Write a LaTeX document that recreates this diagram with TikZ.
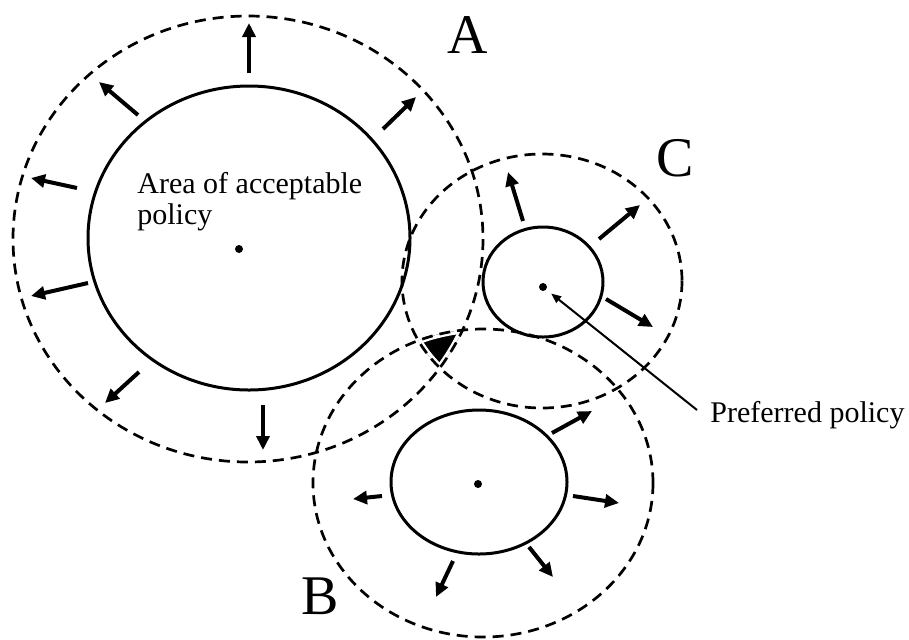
\documentclass[tikz,border=0pt]{standalone}
\usepackage{fontspec}
\setmainfont{Liberation Serif}
\usetikzlibrary{arrows.meta}

\begin{document}
\begin{tikzpicture}[x=0.5pt, y=-0.5pt,
  zone/.style={dash pattern=on 5.5pt off 3.5pt, line width=1.35pt},
  area/.style={line width=1.5pt},
  push/.style={line width=2pt, -{Triangle[length=7pt, width=6.5pt]}},
  pointer/.style={line width=1pt, -{Triangle[length=5pt, width=4pt]}, shorten >=3pt},
  centre/.style={circle, fill, inner sep=0pt, minimum size=4pt},
  tag/.style={font=\fontsize{28}{30}\selectfont, inner sep=0pt},
  note/.style={font=\fontsize{15}{15.5}\selectfont, inner sep=0pt, align=left}]

  \useasboundingbox (0,0) rectangle (909,639);

  % where all three zones overlap
  \begin{scope}
    \clip (248,239) ellipse [x radius=235, y radius=223];
    \clip (542,281) ellipse [x radius=140, y radius=127];
    \clip (483,483) ellipse [x radius=170, y radius=154];
    \fill (400,300) rectangle (500,400);
    \draw[white, line width=3.6pt] (248,239) ellipse [x radius=235, y radius=223];
    \draw[white, line width=3.6pt] (542,281) ellipse [x radius=140, y radius=127];
    \draw[white, line width=3.6pt] (483,483) ellipse [x radius=170, y radius=154];
  \end{scope}

  \draw[zone] (248,239) ellipse [x radius=235, y radius=223];
  \draw[zone] (542,281) ellipse [x radius=140, y radius=127];
  \draw[zone] (483,483) ellipse [x radius=170, y radius=154];

  \draw[area] (249,238) ellipse [x radius=161, y radius=152];
  \draw[area] (543,282) ellipse [x radius=60, y radius=55];
  \draw[area] (479,482) ellipse [x radius=88, y radius=72];

  \node[centre] (dotA) at (239,249) {};
  \node[centre] (dotC) at (543,287) {};
  \node[centre] (dotB) at (478,484) {};

  \foreach \sx/\sy/\ex/\ey in {249/73/249/23, 138/115/99/82, 383/129/416/97,
      77/188/31/178, 88/283/31/296, 139/372/105/403, 263/405/263/450,
      523/221/508/172, 599/239/640/205, 606/299/653/327,
      382/496/353/499, 552/433/592/411, 573/496/619/503,
      529/547/553/577, 453/561/436/597}
    \draw[push] (\sx,\sy) -- (\ex,\ey);

  \node[note, anchor=north west] (areatext) at (137,172) {Area of acceptable\\policy};
  \node[note, anchor=base west] (pref) at (710,422) {Preferred policy};
  \coordinate (preftail) at (697,410);
  \draw[pointer] (preftail) -- (dotC);

  \node[tag, anchor=base west] (labA) at (447,53) {A};
  \node[tag, anchor=base west] (labC) at (656,176) {C};
  \node[tag, anchor=base west] (labB) at (301,614) {B};
\end{tikzpicture}
\end{document}
